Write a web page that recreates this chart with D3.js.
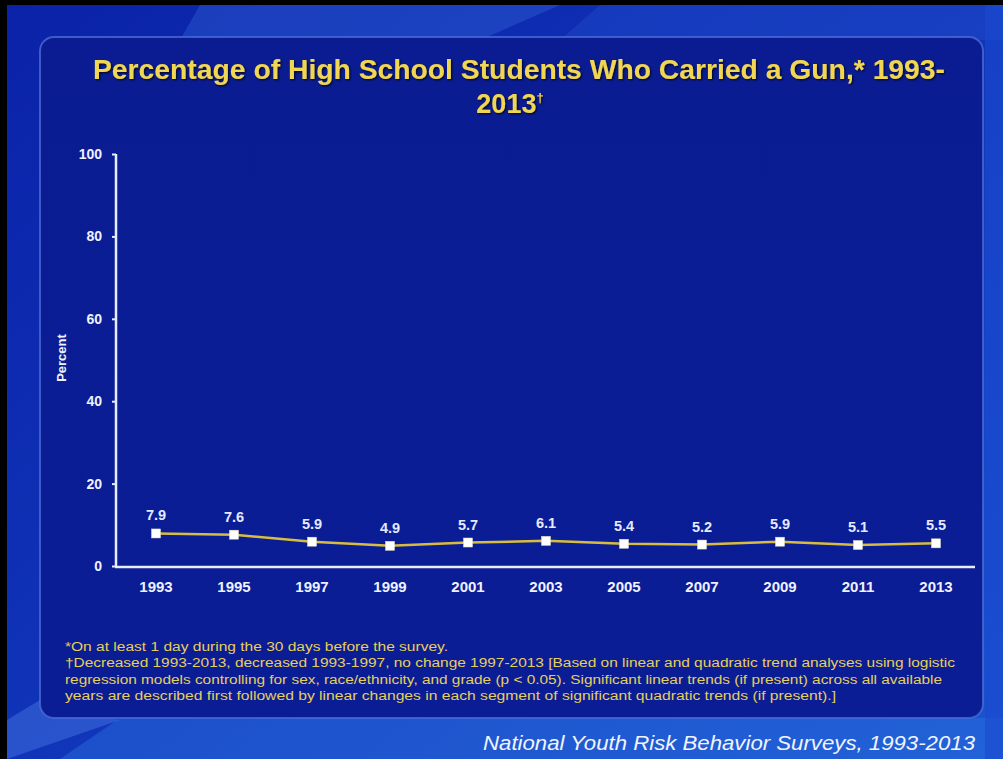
<!DOCTYPE html>
<html><head><meta charset="utf-8">
<script src="https://cdn.jsdelivr.net/npm/d3@7"></script>
<style>html,body{margin:0;padding:0;background:#000;overflow:hidden}</style>
</head><body>
<svg id="c" width="1003" height="759"></svg>
<script>
const years = ["1993","1995","1997","1999","2001","2003","2005","2007","2009","2011","2013"];
const percents = [7.9, 7.6, 5.9, 4.9, 5.7, 6.1, 5.4, 5.2, 5.9, 5.1, 5.5];
const yTicks = [0, 20, 40, 60, 80, 100];
const titleLines = ["Percentage of High School Students Who Carried a Gun,* 1993-", "2013"];
const titleMark = "\u2020";
const footnotes = [
  "*On at least 1 day during the 30 days before the survey.",
  "\u2020Decreased 1993-2013, decreased 1993-1997, no change 1997-2013 [Based on linear and quadratic trend analyses using logistic",
  "regression models controlling for sex, race/ethnicity, and grade (p < 0.05). Significant linear trends (if present) across all available",
  "years are described first followed by linear changes in each segment of significant quadratic trends (if present).]"
];
const source = "National Youth Risk Behavior Surveys, 1993-2013";

const svg = d3.select("#c");
const defs = svg.append("defs");
const bg = defs.append("linearGradient").attr("id","bg").attr("x1","0").attr("y1","0").attr("x2","1").attr("y2","1");
bg.append("stop").attr("offset","0").attr("stop-color","#0a22a8");
bg.append("stop").attr("offset","0.5").attr("stop-color","#1034b8");
bg.append("stop").attr("offset","1").attr("stop-color","#1a55d0");
const pg = defs.append("linearGradient").attr("id","pg").attr("x1","0").attr("y1","0").attr("x2","0").attr("y2","1");
pg.append("stop").attr("offset","0").attr("stop-color","#0b1c92");
pg.append("stop").attr("offset","1").attr("stop-color","#0a1d95");
const sh = defs.append("filter").attr("id","sh").attr("x","-5%").attr("y","-20%").attr("width","110%").attr("height","140%");
sh.append("feDropShadow").attr("dx",1.2).attr("dy",1.2).attr("stdDeviation",1).attr("flood-color","#000").attr("flood-opacity",0.8);

// background
svg.append("rect").attr("x",7).attr("y",5).attr("width",996).attr("height",754).attr("fill","url(#bg)");
svg.append("path").attr("d","M200,5 L560,5 L480,40 L180,40 Z").attr("fill","#3a6ee0").attr("opacity",0.35);
svg.append("path").attr("d","M600,5 L1003,5 L1003,40 L560,40 Z").attr("fill","#2a5ad8").attr("opacity",0.3);
svg.append("path").attr("d","M7,720 L40,700 L120,720 L7,759 Z").attr("fill","#5a90f0").attr("opacity",0.35);
svg.append("path").attr("d","M120,718 L1003,718 L1003,759 L60,759 Z").attr("fill","#2c70e0").attr("opacity",0.45);
svg.append("rect").attr("x",985).attr("y",5).attr("width",18).attr("height",754).attr("fill","#1a4ad0").attr("opacity",0.6);

// panel
svg.append("rect").attr("x",40).attr("y",37).attr("width",943).attr("height",681).attr("rx",14)
  .attr("fill","url(#pg)").attr("stroke","#4a6ad6").attr("stroke-width",2).attr("stroke-opacity",0.8);

const font = "Liberation Sans, Arial, sans-serif";
// title
const title = svg.append("g").attr("filter","url(#sh)");
title.append("text").attr("x",519).attr("y",79).attr("text-anchor","middle")
  .attr("textLength",852).attr("lengthAdjust","spacingAndGlyphs")
  .attr("font-family",font).attr("font-weight","bold").attr("font-size",28)
  .attr("fill","#f0d652").text(titleLines[0]);
const t2 = title.append("text").attr("x",510).attr("y",113).attr("text-anchor","middle")
  .attr("font-family",font).attr("font-weight","bold").attr("font-size",27)
  .attr("fill","#f0d652");
t2.append("tspan").text(titleLines[1]);
t2.append("tspan").attr("font-size",13).attr("dy",-11).text(titleMark);

// scales
const x = d3.scaleBand().domain(years).range([117, 975]);
const y = d3.scaleLinear().domain([0, 100]).range([566, 154]);

// y axis
const yAxis = svg.append("g").attr("transform","translate(116,0)")
  .call(d3.axisLeft(y).tickValues(yTicks).tickSize(4).tickPadding(10));
yAxis.select(".domain").attr("stroke","#e8ecff").attr("stroke-width",2.5).attr("d","M0,154V567");
yAxis.selectAll(".tick line").attr("stroke","#e8ecff").attr("stroke-width",2);
yAxis.selectAll(".tick text").attr("fill","#eef2ff").attr("font-family",font).attr("font-weight","bold").attr("font-size",14);

// x axis
const xAxis = svg.append("g").attr("transform","translate(0,567)")
  .call(d3.axisBottom(x).tickSize(0).tickPadding(12));
xAxis.select(".domain").attr("stroke","#e8ecff").attr("stroke-width",2.5).attr("d","M115,0H975");
xAxis.selectAll(".tick text").attr("fill","#eef2ff").attr("font-family",font).attr("font-weight","bold").attr("font-size",15).attr("dy","0.85em");

// y label
svg.append("text").attr("transform","translate(66,358) rotate(-90)").attr("text-anchor","middle")
  .attr("fill","#eef2ff").attr("font-family",font).attr("font-weight","bold").attr("font-size",13).text("Percent");

// line
const cx = d => x(d) + x.bandwidth()/2;
const line = d3.line().x((d,i) => cx(years[i])).y(d => y(d));
svg.append("path").datum(percents).attr("d",line).attr("fill","none").attr("stroke","#d8bc40").attr("stroke-width",2.5);
svg.selectAll("rect.pt").data(percents).join("rect").attr("class","pt")
  .attr("x",(d,i)=>cx(years[i])-4.5).attr("y",d=>y(d)-4.5).attr("width",9).attr("height",9)
  .attr("fill","#ffffff").attr("stroke","#e8e0c0").attr("stroke-width",0.5);
svg.selectAll("text.lbl").data(percents).join("text").attr("class","lbl")
  .attr("x",(d,i)=>cx(years[i])).attr("y",d=>y(d)-13).attr("text-anchor","middle")
  .attr("fill","#e4eaff").attr("font-family",font).attr("font-weight","bold").attr("font-size",14.5)
  .text(d=>d.toFixed(1));

// footnotes
const fnLen = [383, 890, 877, 771];
svg.selectAll("text.fn").data(footnotes).join("text").attr("class","fn")
  .attr("x",65).attr("y",(d,i)=>651 + i*16.3)
  .attr("textLength",(d,i)=>fnLen[i]).attr("lengthAdjust","spacingAndGlyphs")
  .attr("fill","#e6cf5c").attr("font-family",font).attr("font-size",12.5).text(d=>d);

// source
svg.append("text").attr("x",975).attr("y",750).attr("text-anchor","end")
  .attr("textLength",492).attr("lengthAdjust","spacingAndGlyphs")
  .attr("fill","#f0f4ff").attr("font-family",font).attr("font-style","italic").attr("font-size",20).text(source);
</script>
</body></html>
